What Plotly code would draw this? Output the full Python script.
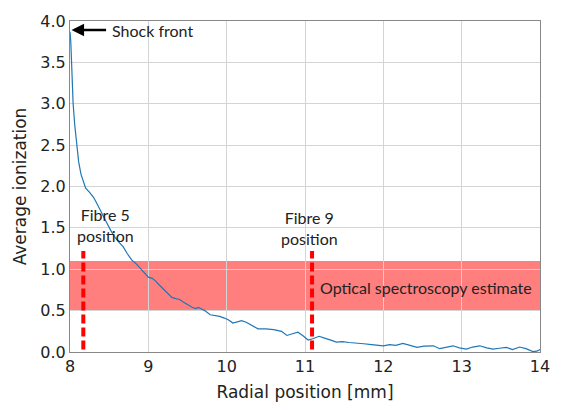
import plotly.graph_objects as go

# Radial position [mm] and average ionization
radial_mm = [8.00, 8.01, 8.02, 8.03, 8.04, 8.06, 8.085, 8.11, 8.14, 8.17,
             8.20, 8.25, 8.30, 8.34, 8.38, 8.43, 8.47, 8.52, 8.57, 8.62,
             8.68, 8.73, 8.79, 8.84, 8.89, 8.95, 9.00, 9.05, 9.09, 9.14,
             9.19, 9.25, 9.30, 9.35, 9.40, 9.45, 9.51, 9.56, 9.60, 9.64,
             9.68, 9.72, 9.79, 9.85, 9.91, 9.97, 10.02, 10.08, 10.13, 10.19,
             10.25, 10.30, 10.35, 10.40, 10.50, 10.60, 10.70, 10.77, 10.84, 10.91,
             10.97, 11.04, 11.10, 11.18, 11.24, 11.28, 11.34, 11.40, 11.48, 11.56,
             11.66, 11.75, 11.85, 11.93, 12.00, 12.08, 12.16, 12.25, 12.33, 12.43,
             12.52, 12.64, 12.72, 12.80, 12.89, 12.97, 13.06, 13.14, 13.23, 13.32,
             13.40, 13.48, 13.57, 13.65, 13.74, 13.82, 13.91, 13.96, 14.00]
ionization = [3.87, 3.75, 3.50, 3.20, 3.00, 2.75, 2.50, 2.30, 2.15, 2.05,
              1.98, 1.93, 1.87, 1.80, 1.72, 1.63, 1.56, 1.47, 1.39, 1.33,
              1.27, 1.19, 1.11, 1.07, 1.02, 0.95, 0.905, 0.89, 0.86, 0.81,
              0.76, 0.71, 0.66, 0.645, 0.635, 0.60, 0.565, 0.54, 0.525, 0.54,
              0.52, 0.50, 0.45, 0.44, 0.43, 0.41, 0.39, 0.35, 0.36, 0.38,
              0.36, 0.33, 0.31, 0.28, 0.28, 0.27, 0.25, 0.20, 0.22, 0.24,
              0.20, 0.145, 0.16, 0.19, 0.17, 0.16, 0.14, 0.12, 0.125, 0.115,
              0.11, 0.10, 0.09, 0.085, 0.075, 0.09, 0.08, 0.105, 0.085, 0.055,
              0.07, 0.075, 0.04, 0.06, 0.075, 0.05, 0.035, 0.06, 0.075, 0.05,
              0.035, 0.045, 0.055, 0.03, 0.06, 0.04, 0.005, 0.01, 0.03]
assert len(radial_mm) == len(ionization)

# Fibre positions (dashed markers) and their extent
fibre_names = ["Fibre 5", "Fibre 9"]
fibre_x = [8.17, 11.09]
fibre_y_range = [0.03, 1.22]

# Optical spectroscopy estimate band
band_low, band_high = 0.5, 1.1

x_ticks = [8, 9, 10, 11, 12, 13, 14]
y_ticks = [0.0, 0.5, 1.0, 1.5, 2.0, 2.5, 3.0, 3.5, 4.0]

shock_front_x, shock_front_y = 8.02, 3.89

ann_font = dict(family="Lato, 'Open Sans', sans-serif", size=16, color="#222222")

fig = go.Figure()

fig.add_trace(go.Scatter(
    x=radial_mm, y=ionization, mode="lines",
    line=dict(color="#1f77b4", width=1.2), showlegend=False,
))

for fx in fibre_x:
    fig.add_trace(go.Scatter(
        x=[fx, fx], y=fibre_y_range, mode="lines",
        line=dict(color="#ff0000", width=4, dash="9px,4px"), showlegend=False,
    ))

fig.add_shape(type="rect", xref="x", yref="y", x0=8, x1=14,
              y0=band_low, y1=band_high, fillcolor="rgba(255,0,0,0.5)",
              line=dict(width=0), layer="below")

fig.add_annotation(x=13.92, y=(band_low + band_high) / 2 - 0.02, xref="x", yref="y",
                   text="Optical spectroscopy estimate", showarrow=False,
                   xanchor="right", yanchor="middle", font=ann_font)

fig.add_annotation(x=8.45, y=1.54, text=f"{fibre_names[0]}<br>position", showarrow=False,
                   xanchor="center", yanchor="middle", font=ann_font)
fig.add_annotation(x=11.06, y=1.50, text=f"{fibre_names[1]}<br>position", showarrow=False,
                   xanchor="center", yanchor="middle", font=ann_font)

# Arrow pointing at the shock front
fig.add_annotation(x=shock_front_x, y=shock_front_y, ax=8.48, ay=shock_front_y,
                   xref="x", yref="y", axref="x", ayref="y", text="",
                   showarrow=True, arrowhead=2, arrowsize=1, arrowwidth=2.5,
                   arrowcolor="black")
fig.add_annotation(x=8.51, y=shock_front_y, text="Shock front", showarrow=False,
                   xanchor="left", yanchor="middle", font=ann_font)

axis_common = dict(
    showgrid=True, gridcolor="#d4d4d4", gridwidth=1,
    showline=True, linecolor="#888888", linewidth=1, mirror=True,
    ticks="",
    tickfont=dict(family="DejaVu Sans", size=16, color="#222222"),
    zeroline=False,
)

title_font = dict(family="DejaVu Sans", size=17, color="#222222")

fig.update_xaxes(range=[8, 14], tickvals=x_ticks,
                 ticktext=[str(v) for v in x_ticks],
                 title=dict(text="Radial position [mm]", font=title_font, standoff=10),
                 **axis_common)
fig.update_yaxes(range=[0, 4], tickvals=y_ticks,
                 ticktext=[f"{v:.1f}" for v in y_ticks],
                 title=dict(text="Average ionization", font=title_font, standoff=9),
                 **axis_common)

fig.update_layout(
    width=564, height=410,
    margin=dict(l=70, r=24, t=12, b=57),
    plot_bgcolor="white", paper_bgcolor="white",
)

fig.write_html("out.html")
